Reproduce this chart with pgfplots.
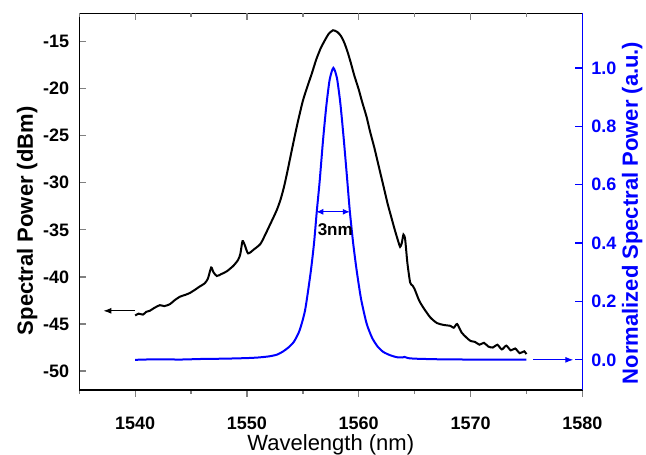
\documentclass[border=0pt]{standalone}
\usepackage{fontspec}
\setmainfont{Liberation Sans}
\usepackage{pgfplots}
\usepackage{pgfplotstable}
\pgfplotsset{compat=1.18}
\usetikzlibrary{arrows.meta}
\definecolor{oblue}{RGB}{0,0,255}

% measured spectrum (dBm)
\pgfplotstableread{
x y
1540.0 -44.1
1540.3 -43.9
1540.7 -44.0
1541.0 -43.7
1541.3 -43.6
1541.7 -43.3
1542.2 -43.0
1542.6 -43.1
1543.1 -42.9
1543.5 -42.5
1544.0 -42.1
1544.5 -41.9
1544.9 -41.7
1545.3 -41.4
1545.8 -41.0
1546.2 -40.7
1546.5 -40.2
1546.8 -39.0
1547.0 -39.5
1547.3 -39.9
1547.7 -39.7
1548.2 -39.4
1548.8 -38.8
1549.2 -38.2
1549.4 -37.6
1549.6 -36.2
1549.8 -36.6
1550.1 -37.5
1550.6 -37.1
1551.2 -36.5
1551.6 -35.6
1552.0 -34.6
1552.4 -33.6
1552.7 -32.8
1553.0 -31.8
1553.3 -30.5
1553.6 -28.9
1554.0 -26.6
1554.5 -23.8
1555.0 -21.3
1555.4 -19.8
1555.8 -18.4
1556.2 -16.9
1556.6 -15.7
1557.0 -14.8
1557.3 -14.2
1557.7 -13.8
1558.1 -14.0
1558.4 -14.4
1558.7 -15.1
1559.0 -16.1
1559.3 -17.3
1559.6 -18.6
1560.0 -20.1
1560.3 -21.4
1560.7 -23.0
1561.0 -24.5
1561.4 -26.3
1561.7 -27.8
1562.0 -29.3
1562.3 -30.8
1562.6 -32.3
1562.9 -33.6
1563.2 -34.9
1563.45 -35.9
1563.7 -36.8
1563.85 -36.4
1564.0 -35.5
1564.15 -36.0
1564.35 -38.5
1564.6 -40.6
1564.8 -40.9
1565.0 -41.3
1565.4 -42.5
1565.8 -43.3
1566.4 -44.3
1567.0 -44.9
1567.6 -45.1
1568.2 -45.2
1568.5 -45.4
1568.8 -45.0
1569.2 -45.9
1569.6 -46.4
1570.0 -46.8
1570.4 -46.9
1570.8 -47.2
1571.2 -47.0
1571.6 -47.4
1572.0 -47.5
1572.4 -47.2
1572.8 -47.7
1573.2 -47.3
1573.6 -47.8
1574.0 -47.6
1574.4 -48.1
1574.8 -47.9
1575.0 -48.2
}\specdbm

% normalized spectrum (a.u.)
\pgfplotstableread{
x y
1540.0 0.000
1542.0 0.002
1544.0 0.001
1546.0 0.003
1548.0 0.004
1550.0 0.006
1551.0 0.008
1552.0 0.012
1552.7 0.018
1553.2 0.028
1553.7 0.042
1554.2 0.062
1554.7 0.100
1555.2 0.170
1555.7 0.300
1556.0 0.400
1556.25 0.510
1556.5 0.610
1556.8 0.750
1557.1 0.870
1557.4 0.960
1557.73 1.000
1558.05 0.965
1558.35 0.880
1558.65 0.760
1558.95 0.625
1559.2 0.510
1559.5 0.400
1559.8 0.310
1560.2 0.210
1560.7 0.125
1561.2 0.075
1561.7 0.045
1562.2 0.027
1562.8 0.016
1563.4 0.009
1563.9 0.008
1564.1 0.010
1564.4 0.006
1565.0 0.004
1567.0 0.002
1570.0 0.001
1575.0 0.001
}\specnorm

\begin{document}
\begin{tikzpicture}
\pgfplotsset{
  base/.style={
    scale only axis, width=251.5pt, height=188.3pt,
    at={(0pt,0pt)}, anchor=south west,
    xmin=1535, xmax=1580,
    axis line style={line width=0.65pt},
    every tick/.append style={line width=0.65pt},
    major tick length=3.5pt, minor tick length=2pt,
    tick label style={font=\fontsize{9}{10}\selectfont\bfseries},
    /pgf/number format/assume math mode=true,
    /pgf/number format/1000 sep={},
    xtick={1540,1550,...,1580},
    minor xtick={1535,1545,...,1575},
  },
}
% left axis, bottom axis, full frame
\begin{axis}[base,
  ymin=-52, ymax=-12,
  xtick pos=bottom, ytick pos=left,
  xtick align=outside, ytick align=inside,
  ytick={-50,-45,...,-15},
  xticklabel shift=6.5pt, yticklabel shift=1.5pt,
  every axis x label/.style={at={(axis description cs:0.5,-0.145)}, anchor=center,
    font=\fontsize{11}{13}\selectfont},
  every axis y label/.style={at={(axis description cs:-0.1034,0.449)}, anchor=center,
    rotate=90, font=\fontsize{11}{13}\selectfont\bfseries},
  xlabel={Wavelength (nm)}, ylabel={Spectral Power (dBm)},
]
\addplot[black, line width=1pt, smooth, tension=0.4] table {\specdbm};
\draw[-{Latex[length=4pt,width=3pt]}, line width=0.6pt] (axis cs:1540,-43.6) -- (axis cs:1537.15,-43.6);
\end{axis}
% inward ticks on the top edge
\begin{axis}[base,
  ymin=0, ymax=1,
  xtick pos=top, xtick align=inside, xticklabels={,,,,,},
  ytick=\empty, axis line style={draw=none},
]
\addplot[draw=none] coordinates {(1540,0.5) (1550,0.5)};
\end{axis}
% right axis
\begin{axis}[base,
  ymin=-0.103, ymax=1.187,
  axis y line*=right, hide x axis,
  ytick align=inside,
  ytick={0,0.2,0.4,0.6,0.8,1.0},
  y axis line style={draw=oblue},
  every y tick/.append style={oblue},
  yticklabel shift=1pt,
  yticklabel style={text=oblue, /pgf/number format/.cd, fixed, fixed zerofill, precision=1},
  every axis y label/.style={at={(axis description cs:1.099,0.47)}, anchor=center,
    rotate=90, font=\fontsize{11}{13}\selectfont\bfseries, text=oblue},
  ylabel={Normalized Spectral Power (a.u.)},
]
\addplot[oblue, line width=1pt, smooth, tension=0.4] table {\specnorm};
\draw[{Latex[length=3.5pt,width=3pt]}-{Latex[length=3.5pt,width=3pt]}, oblue, line width=0.5pt]
  (axis cs:1556.2,0.507) -- (axis cs:1559.2,0.507);
\node[font=\fontsize{8.5}{10}\selectfont\bfseries] at (axis cs:1557.9,0.445) {3nm};
\draw[-{Latex[length=4pt,width=3pt]}, oblue, line width=0.6pt] (axis cs:1575.6,0) -- (axis cs:1579.2,0);
\end{axis}
\pgfresetboundingbox
\path (-39.65pt,-32.5pt) rectangle (283.35pt,194.95pt);
\end{tikzpicture}
\end{document}
